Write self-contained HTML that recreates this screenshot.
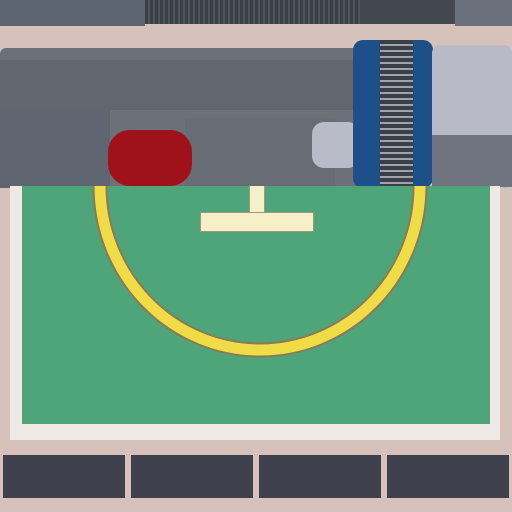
<!DOCTYPE html>
<html><head><meta charset="utf-8"><style>
html,body{margin:0;padding:0}
body{width:512px;height:512px;position:relative;overflow:hidden;background:#d6c2ba}
div{position:absolute}
</style></head><body>
<div style="left:0;top:0;width:145px;height:26px;background:#5e6572"></div>
<div style="left:145px;top:0;width:215px;height:24px;background:repeating-linear-gradient(90deg,#3a3e46 0 3px,#50545c 3px 5px)"></div>
<div style="left:360px;top:0;width:95px;height:24px;background:#43474f"></div>
<div style="left:455px;top:0;width:57px;height:26px;background:#6a707c"></div>

<div style="left:0;top:48px;width:360px;height:140px;background:#6b7079;border-radius:6px"></div>
<div style="left:0;top:60px;width:360px;height:50px;background:#62676f"></div>
<div style="left:0;top:110px;width:110px;height:78px;background:#5f6571"></div>
<div style="left:185px;top:118px;width:150px;height:68px;background:#676c75"></div>
<div style="left:312px;top:122px;width:48px;height:46px;background:#b9bcc8;border-radius:12px"></div>
<div style="left:108px;top:130px;width:84px;height:56px;background:#a0121a;border-radius:22px"></div>

<div style="left:353px;top:40px;width:80px;height:148px;background:#1d4f88;border-radius:10px"></div>
<div style="left:380px;top:40px;width:33px;height:148px;background:repeating-linear-gradient(180deg,#3b3f47 0 4px,#9ea3ab 4px 6px)"></div>
<div style="left:432px;top:45px;width:80px;height:143px;background:#b8bbc7;border-radius:8px"></div>
<div style="left:432px;top:135px;width:80px;height:52px;background:#6f7480"></div>

<div style="left:10px;top:186px;width:490px;height:254px;background:#efe9e6"></div>
<div style="left:22px;top:186px;width:468px;height:238px;background:#4fa57a"></div>
<svg style="position:absolute;left:0;top:0" width="512" height="512">
<path d="M100 186 A160 164 0 0 0 420 186" fill="none" stroke="#8a7a55" stroke-width="15"/>
<path d="M100 186 A160 164 0 0 0 420 186" fill="none" stroke="#f0dc46" stroke-width="11"/>
</svg>
<div style="left:249px;top:186px;width:14px;height:30px;background:#f6efc8;border:1px solid #9a9a80;border-top:none"></div>
<div style="left:200px;top:212px;width:112px;height:18px;background:#f6efc8;border:1px solid #9a9a80"></div>

<div style="left:3px;top:455px;width:122px;height:43px;background:#3e414c"></div>
<div style="left:131px;top:455px;width:122px;height:43px;background:#3e414c"></div>
<div style="left:259px;top:455px;width:122px;height:43px;background:#3e414c"></div>
<div style="left:387px;top:455px;width:122px;height:43px;background:#3e414c"></div>
</body></html>
